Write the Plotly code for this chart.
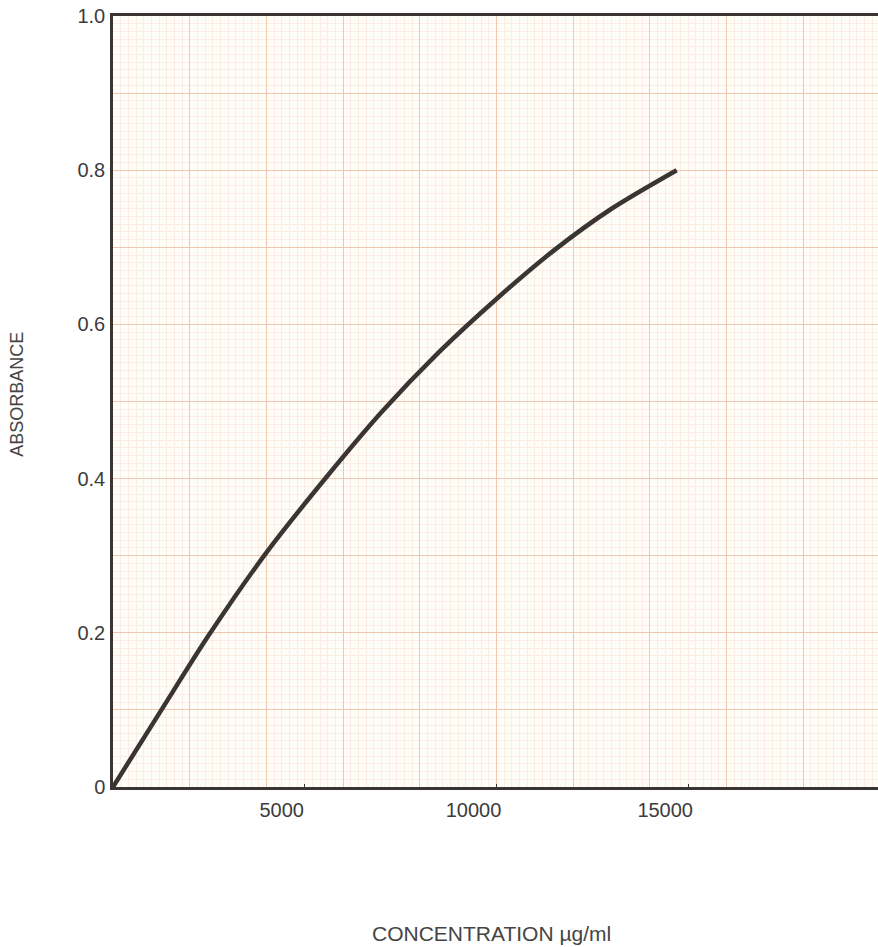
import plotly.graph_objects as go

# Calibration curve: absorbance vs concentration
concentration = [0, 1300, 2500, 4000, 5600, 7000, 8500, 10000, 11500, 13000, 14700]
absorbance = [0, 0.103, 0.197, 0.304, 0.404, 0.486, 0.564, 0.633, 0.696, 0.750, 0.800]

x_tick_vals = [5000, 10000, 15000]
x_tick_text = ["5000", "10000", "15000"]
y_tick_vals = [0, 0.1, 0.2, 0.3, 0.4, 0.5, 0.6, 0.7, 0.8, 0.9, 1.0]
y_tick_text = ["0", "", "0.2", "", "0.4", "", "0.6", "", "0.8", "", "1.0"]

X_RANGE = [0, 19950]
Y_RANGE = [0, 1.0]

INK = "#3a3532"
MAJOR_GRID = "#efc6b0"
MINOR_GRID = "#fbede3"
FONT = "Liberation Sans, Arial, sans-serif"

fig = go.Figure()

# graph-paper grid carrier (major lines every 2000 on an overlaid axis)
fig.add_trace(go.Scatter(x=X_RANGE, y=Y_RANGE, xaxis="x2", yaxis="y",
                         mode="markers", marker=dict(opacity=0),
                         hoverinfo="skip", showlegend=False))

fig.add_trace(go.Scatter(
    x=concentration, y=absorbance, mode="lines",
    line=dict(color=INK, width=4.5, shape="spline", smoothing=0.8),
    showlegend=False,
))

fig.update_layout(
    width=878, height=947,
    margin=dict(l=113, r=0, t=16, b=160),
    paper_bgcolor="#ffffff",
    plot_bgcolor="#fffdf8",
    font=dict(family=FONT, size=20, color="#3c3c3c"),
    xaxis=dict(
        range=X_RANGE, tickvals=x_tick_vals, ticktext=x_tick_text,
        showgrid=False, zeroline=False,
        showline=True, linecolor=INK, linewidth=2.5, mirror=True,
        ticks="inside", ticklen=3, tickcolor=INK,
        ticklabelshift=-23, ticklabelstandoff=3,
        tickfont=dict(size=20),
        minor=dict(dtick=200, showgrid=True, gridcolor=MINOR_GRID, gridwidth=1),
    ),
    xaxis2=dict(
        range=X_RANGE, overlaying="x", matches="x", dtick=2000, tick0=0,
        showgrid=True, gridcolor=MAJOR_GRID, gridwidth=1,
        showticklabels=False, ticks="", zeroline=False, showline=False,
    ),
    yaxis=dict(
        range=Y_RANGE, tickvals=y_tick_vals, ticktext=y_tick_text,
        showgrid=True, gridcolor=MAJOR_GRID, gridwidth=1,
        zeroline=False, showline=True, linecolor=INK, linewidth=2.5,
        ticks="", ticklabelstandoff=1,
        tickfont=dict(size=20),
        minor=dict(dtick=0.01, showgrid=True, gridcolor=MINOR_GRID, gridwidth=1),
    ),
    annotations=[
        dict(text="ABSORBANCE", xref="paper", yref="paper",
             x=-0.1255, y=0.51, textangle=-90, showarrow=False,
             xanchor="center", yanchor="middle",
             font=dict(size=18, color="#444444")),
        dict(text="CONCENTRATION \u00b5g/ml", xref="paper", yref="paper",
             x=0.495, y=-0.19, showarrow=False,
             xanchor="center", yanchor="middle",
             font=dict(size=21, color="#444444")),
    ],
)

fig.write_html("out.html")
